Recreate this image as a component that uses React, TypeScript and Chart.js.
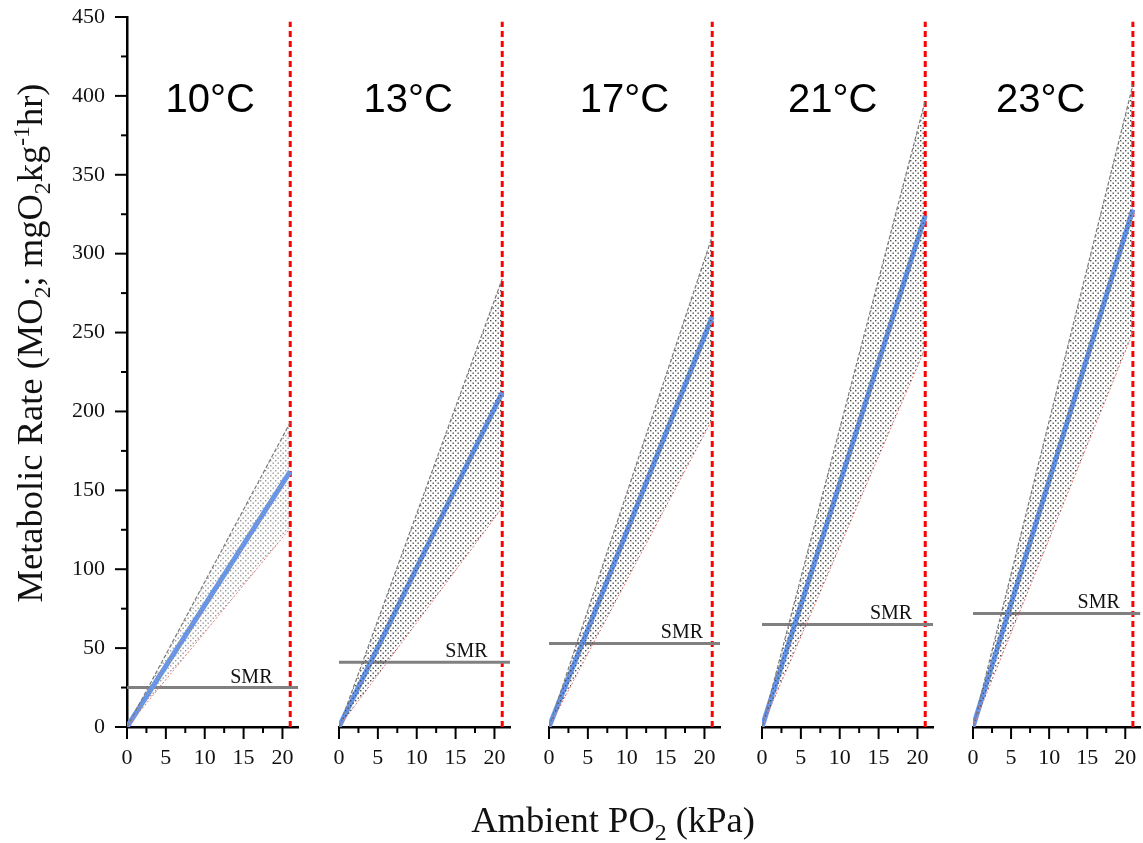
import React, { useEffect, useRef } from 'react';
import { Chart, registerables } from 'chart.js';
Chart.register(...registerables);

// ---------------- data ----------------
const panelTitles = ['10°C', '13°C', '17°C', '21°C', '23°C'];
const pO2Points = [0, 21]; // kPa
const meanMO2 = [[0, 162], [0, 212], [0, 260], [0, 324], [0, 328]];
const upperMO2 = [[0, 193], [0, 284], [0, 311], [0, 397], [0, 407]];
const lowerMO2 = [[0, 126], [0, 139], [0, 195], [0, 240], [0, 250]];
const smrValues = [25, 41, 53, 65, 72];
const smrSpan = [0, 22];
const normoxiaPO2 = 21;
const normoxiaSpan = [0, 447];
const xRange = [0, 22];
const yRange = [0, 450];
const xMajorStep = 5;
const xMinorStep = 2.5;
const yMajorStep = 50;
const yMinorStep = 25;

// ---------------- layout / style ----------------
const W = 1143;
const H = 843;
const PANEL_LEFT = [127, 339, 549, 762, 973];
const PANEL_W = 171;
const PLOT_TOP = 17;
const PLOT_BOTTOM = 727;
const TITLE_X = [10.7, 8.9, 9.7, 9.1, 8.9];
const TITLE_Y = 390;
const SMR_LABEL_X = [16.0, 16.4, 17.1, 16.6, 16.5];
const DOT_COLORS = ['#999999', '#4d4d4d', '#4d4d4d', '#4d4d4d', '#4d4d4d'];
const SERIF = "'Liberation Serif', 'Times New Roman', serif";
const SANS = "'Liberation Sans', Arial, sans-serif";

type Seg = { t: string; sub?: boolean; sup?: boolean };

function drawRich(ctx: CanvasRenderingContext2D, segs: Seg[], x: number, y: number, size: number) {
  const small = size * 0.65;
  const widths = segs.map((s) => {
    ctx.font = `${s.sub || s.sup ? small : size}px ${SERIF}`;
    return ctx.measureText(s.t).width;
  });
  const total = widths.reduce((a, b) => a + b, 0);
  let cx = x - total / 2;
  ctx.textAlign = 'left';
  ctx.textBaseline = 'alphabetic';
  segs.forEach((s, k) => {
    ctx.font = `${s.sub || s.sup ? small : size}px ${SERIF}`;
    const dy = s.sub ? size * 0.22 : s.sup ? -size * 0.36 : 0;
    ctx.fillText(s.t, cx, y + dy);
    cx += widths[k];
  });
}

function makePattern(color: string) {
  const c = document.createElement('canvas');
  c.width = 5;
  c.height = 5;
  const g = c.getContext('2d')!;
  g.fillStyle = color;
  g.fillRect(0, 0, 1.4, 1.4);
  g.fillRect(2.5, 2.5, 1.4, 1.4);
  return g.createPattern(c, 'repeat')!;
}

function makePlugin(i: number) {
  return {
    id: 'panelDeco' + i,
    afterDraw(chart: any) {
      const ctx: CanvasRenderingContext2D = chart.ctx;
      const xs = chart.scales.x;
      const ys = chart.scales.y;
      const area = chart.chartArea;
      ctx.save();
      ctx.strokeStyle = '#000';
      ctx.lineWidth = 2;
      for (let v = xRange[0]; v <= xRange[1] + 1e-9; v += xMinorStep) {
        const major = Math.abs(v / xMajorStep - Math.round(v / xMajorStep)) < 1e-6;
        const px = xs.getPixelForValue(v);
        ctx.beginPath();
        ctx.moveTo(px, area.bottom);
        ctx.lineTo(px, area.bottom + (major ? 12 : 6));
        ctx.stroke();
      }
      if (i === 0) {
        for (let v = yRange[0]; v <= yRange[1] + 1e-9; v += yMinorStep) {
          const major = Math.abs(v / yMajorStep - Math.round(v / yMajorStep)) < 1e-6;
          const py = ys.getPixelForValue(v);
          ctx.beginPath();
          ctx.moveTo(area.left, py);
          ctx.lineTo(area.left - (major ? 12 : 6), py);
          ctx.stroke();
        }
      }
      ctx.fillStyle = '#000';
      ctx.font = `40px ${SANS}`;
      ctx.textAlign = 'center';
      ctx.textBaseline = 'alphabetic';
      ctx.fillText(panelTitles[i], xs.getPixelForValue(TITLE_X[i]), ys.getPixelForValue(TITLE_Y));
      ctx.font = `20px ${SERIF}`;
      ctx.fillStyle = '#111';
      ctx.fillText('SMR', xs.getPixelForValue(SMR_LABEL_X[i]), ys.getPixelForValue(smrValues[i]) - 5);
      if (i === 0) {
        ctx.fillStyle = '#111';
        drawRich(ctx, [{ t: 'Ambient PO' }, { t: '2', sub: true }, { t: ' (kPa)' }], 613, 832, 36.5);
        ctx.save();
        ctx.translate(42, 343);
        ctx.rotate(-Math.PI / 2);
        drawRich(
          ctx,
          [
            { t: 'Metabolic Rate (MO' },
            { t: '2', sub: true },
            { t: '; mgO' },
            { t: '2', sub: true },
            { t: 'kg' },
            { t: '-1', sup: true },
            { t: 'hr)' },
          ],
          0,
          0,
          36.5
        );
        ctx.restore();
      }
      ctx.restore();
    },
  };
}

function buildConfig(i: number): any {
  const pts = (arr: number[]) => pO2Points.map((x, k) => ({ x, y: arr[k] }));
  const yScale: any = {
    type: 'linear',
    display: i === 0,
    min: yRange[0],
    max: yRange[1],
    ticks: {
      stepSize: yMajorStep,
      includeBounds: false,
      autoSkip: false,
      padding: 10,
      color: '#111',
      font: { family: SERIF, size: 22 },
    },
    grid: {
      display: true,
      drawOnChartArea: false,
      drawTicks: true,
      tickLength: 12,
      tickColor: 'rgba(0,0,0,0)',
    },
    border: { display: true, color: '#000', width: 2.5 },
  };
  if (i === 0) {
    yScale.afterFit = (s: any) => {
      s.width = PANEL_LEFT[0];
      s.paddingTop = 0;
      s.paddingBottom = 0;
    };
  }
  return {
    type: 'line',
    data: {
      datasets: [
        {
          label: 'upper',
          data: pts(upperMO2[i]),
          borderColor: '#7a7a7a',
          borderWidth: 1.2,
          borderDash: [4, 2],
          pointRadius: 0,
          fill: '+1',
          backgroundColor: makePattern(DOT_COLORS[i]),
        },
        {
          label: 'lower',
          data: pts(lowerMO2[i]),
          borderColor: '#f07474',
          borderWidth: 1,
          borderDash: [2, 2],
          pointRadius: 0,
          fill: false,
        },
        {
          label: 'mean',
          data: pts(meanMO2[i]),
          borderColor: '#6495ED',
          borderWidth: 5,
          pointRadius: 0,
          fill: false,
        },
        {
          label: 'SMR',
          data: smrSpan.map((x) => ({ x, y: smrValues[i] })),
          borderColor: '#808080',
          borderWidth: 3,
          pointRadius: 0,
          fill: false,
        },
        {
          label: 'normoxia',
          data: normoxiaSpan.map((y) => ({ x: normoxiaPO2, y })),
          borderColor: '#ff0000',
          borderWidth: 3,
          borderDash: [6, 4],
          pointRadius: 0,
          fill: false,
        },
      ],
    },
    options: {
      responsive: false,
      animation: false,
      layout: {
        padding: {
          left: i === 0 ? 0 : PANEL_LEFT[i],
          right: W - PANEL_LEFT[i] - PANEL_W,
          top: PLOT_TOP,
          bottom: 0,
        },
      },
      plugins: { legend: { display: false }, tooltip: { enabled: false } },
      scales: {
        x: {
          type: 'linear',
          min: xRange[0],
          max: xRange[1],
          ticks: {
            stepSize: xMajorStep,
            includeBounds: false,
            autoSkip: false,
            maxRotation: 0,
            padding: 6,
            color: '#111',
            font: { family: SERIF, size: 22 },
          },
          grid: {
            display: true,
            drawOnChartArea: false,
            drawTicks: true,
            tickLength: 12,
            tickColor: 'rgba(0,0,0,0)',
          },
          border: { display: true, color: '#000', width: 2.5 },
          afterFit: (s: any) => {
            s.height = H - PLOT_BOTTOM;
          },
        },
        y: yScale,
      },
    },
    plugins: [makePlugin(i)],
  };
}

function Panel({ index }: { index: number }) {
  const ref = useRef<HTMLCanvasElement | null>(null);
  useEffect(() => {
    if (!ref.current) return;
    const chart: any = new Chart(ref.current, buildConfig(index));
    // calibrate padding so the plot area lands exactly where intended
    const targetL = PANEL_LEFT[index];
    const targetR = PANEL_LEFT[index] + PANEL_W;
    for (let pass = 0; pass < 4; pass++) {
      const a = chart.chartArea;
      const p = { ...chart.config.options.layout.padding };
      const dT = a.top - PLOT_TOP;
      const dB = a.bottom - PLOT_BOTTOM;
      const dL = a.left - targetL;
      const dR = a.right - targetR;
      if (Math.abs(dT) < 0.2 && Math.abs(dB) < 0.2 && Math.abs(dL) < 0.2 && Math.abs(dR) < 0.2) break;
      p.top = Math.max(0, p.top - dT);
      p.bottom = Math.max(0, p.bottom + dB);
      p.left = Math.max(0, p.left - dL);
      p.right = Math.max(0, p.right + dR);
      chart.config.options.layout.padding = p;
      chart.update();
    }
    return () => chart.destroy();
  }, [index]);
  return (
    <canvas
      ref={ref}
      width={W}
      height={H}
      style={{ position: 'absolute', left: 0, top: 0, width: W, height: H }}
    />
  );
}

export default function App() {
  return (
    <div style={{ position: 'absolute', left: 0, top: 0, width: W, height: H, background: '#fff', overflow: 'hidden' }}>
      {panelTitles.map((_, i) => (
        <Panel key={i} index={i} />
      ))}
    </div>
  );
}
